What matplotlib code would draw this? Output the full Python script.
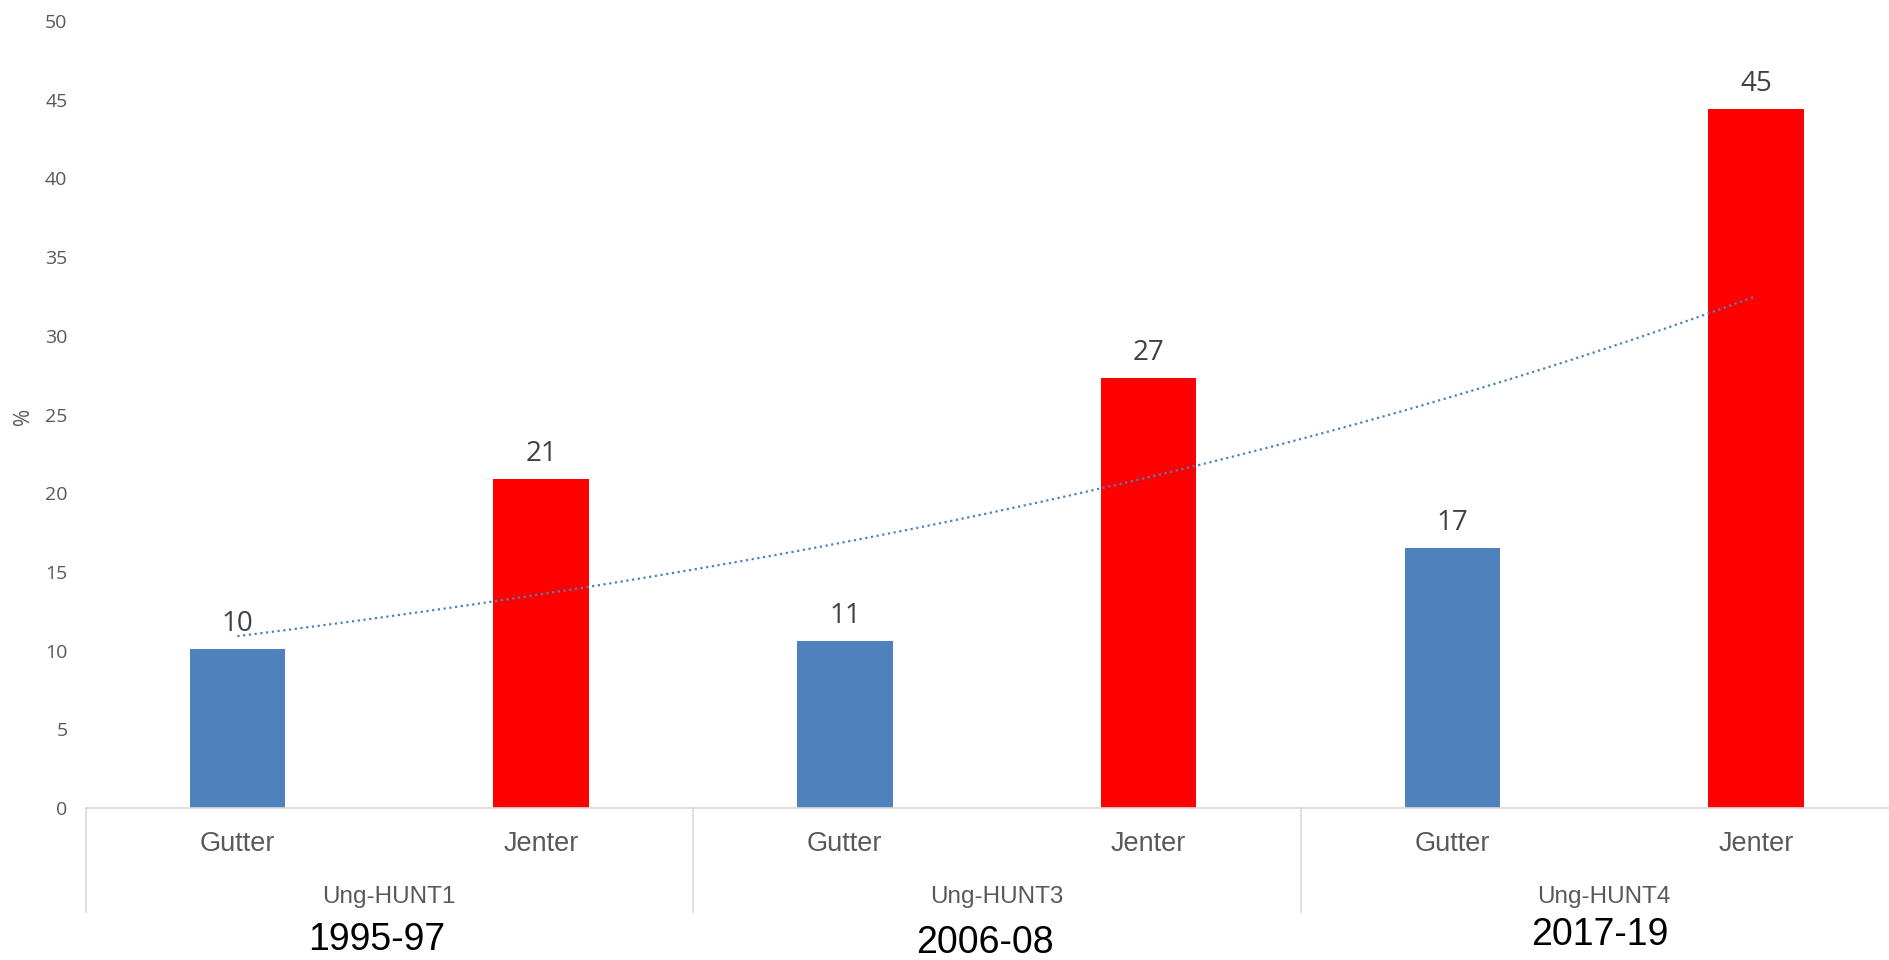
import matplotlib.pyplot as plt
import numpy as np

W, H, DPI = 1889, 960, 100

categories = ["Gutter", "Jenter", "Gutter", "Jenter", "Gutter", "Jenter"]
values = [10.1, 20.9, 10.6, 27.3, 16.5, 44.4]
value_labels = ["10", "21", "11", "27", "17", "45"]
groups = ["Ung-HUNT1", "Ung-HUNT3", "Ung-HUNT4"]
periods = ["1995-97", "2006-08", "2017-19"]
y_ticks = list(range(0, 55, 5))

BLUE = "#4F81BD"
RED = "#FF0000"
GREY_TEXT = "#595959"
LINE_GREY = "#D9D9D9"
ARIAL = ["Liberation Sans", "DejaVu Sans"]

plt.rcParams["font.family"] = ["Open Sans", "DejaVu Sans"]

# pixel layout of the plot area (full-size reference)
AX_LEFT, AX_RIGHT, AX_ZERO, AX_TOP = 85.5, 1908, 808, 21


def ax_y(py):
    # pixel row -> axes fraction (below the axis gives negatives)
    return (AX_ZERO - py) / (AX_ZERO - AX_TOP)


fig = plt.figure(figsize=(W / DPI, H / DPI), dpi=DPI)
ax = fig.add_axes([AX_LEFT / W, (H - AX_ZERO) / H,
                   (AX_RIGHT - AX_LEFT) / W, (AX_ZERO - AX_TOP) / H])

x = np.arange(len(values))
colors = [BLUE if c == "Gutter" else RED for c in categories]
bars = ax.bar(x, values, width=0.315, color=colors, zorder=2)

for bar, lab in zip(bars, value_labels):
    ax.annotate(lab, (bar.get_x() + bar.get_width() / 2, bar.get_height()),
                xytext=(0, 13), textcoords="offset points",
                ha="center", va="baseline", fontsize=20, color="#404040")

# exponential trendline over the six bars (Excel style)
slope, icpt = np.polyfit(x, np.log(values), 1)
xs = np.linspace(x[0], x[-1], 300)
ax.plot(xs, np.exp(icpt + slope * xs), color=BLUE, lw=1.6,
        linestyle=(0, (1, 1.6)), zorder=3)

ax.set_xlim(-0.5, len(values) - 0.5)
ax.set_ylim(0, 50)
ax.set_yticks(y_ticks)
ax.tick_params(axis="y", length=0, pad=13, labelsize=14, labelcolor=GREY_TEXT)
ax.set_xticks([])
for side in ("left", "right", "top"):
    ax.spines[side].set_visible(False)
ax.spines["bottom"].set_color(LINE_GREY)
ax.spines["bottom"].set_linewidth(1.2)

xt = ax.get_xaxis_transform()
for xi, cat in zip(x, categories):
    ax.text(xi, ax_y(844), cat, transform=xt, ha="center", va="center",
            fontsize=19.5, family=ARIAL, color=GREY_TEXT)

for gi, g in enumerate(groups):
    ax.text(2 * gi + 0.5, ax_y(897), g, transform=xt, ha="center",
            va="center", fontsize=17.5, family=ARIAL, color=GREY_TEXT)

for sep in np.arange(-0.5, len(values), 2):
    ax.plot([sep, sep], [0, ax_y(912)], transform=xt, color=LINE_GREY,
            lw=1.2, clip_on=False)

period_pos = [(377, 940), (985, 943), (1600, 935)]
for (px, py), p in zip(period_pos, periods):
    fig.text(px / W, 1 - py / H, p, ha="center", va="center",
             fontsize=27, family=ARIAL, color="black")

fig.text(24 / W, 1 - 416 / H, "%", rotation=90, ha="center", va="center",
         fontsize=15, color=GREY_TEXT)

fig.savefig("out.png", dpi=DPI, facecolor="white")
